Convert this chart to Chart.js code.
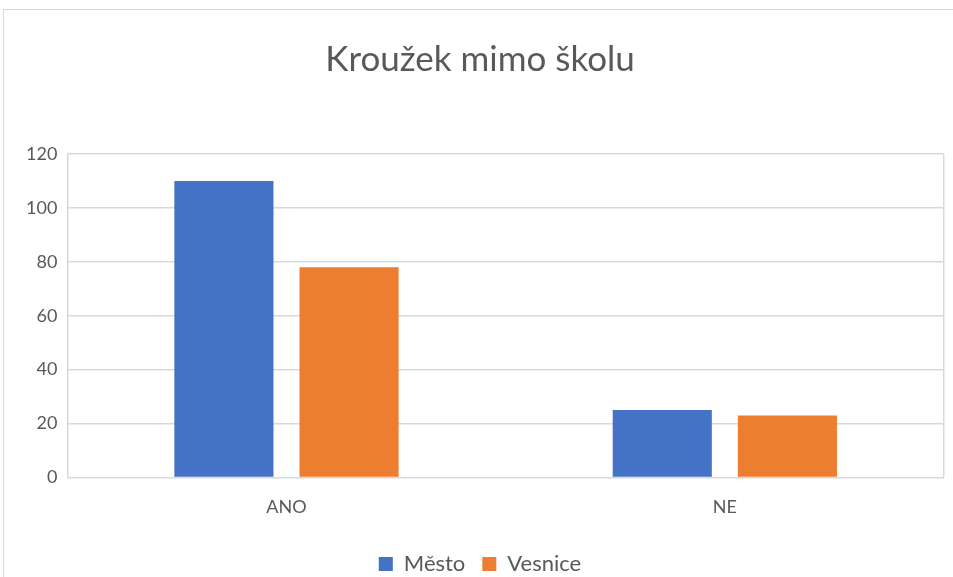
<!DOCTYPE html>
<html lang="cs">
<head>
    <meta charset="UTF-8">
    <title>Kroužek mimo školu</title>
    <script src="https://cdn.jsdelivr.net/npm/chart.js"></script>
    <style>
        html, body { margin: 0; padding: 0; background: #fff; }
        #wrap { position: relative; width: 953px; height: 577px; overflow: hidden; }
        #frame { position: absolute; left: 3px; top: 9px; width: 980px; height: 600px; border: 1px solid #d9d9d9; }
        #wrap canvas { position: absolute; left: 0; top: 0; }
    </style>
</head>
<body>
    <div id="wrap">
        <div id="frame"></div>
        <canvas id="krouzekChart" width="953" height="577"></canvas>
    </div>

    <script>
        const categories = ['ANO', 'NE'];
        const mesto = [110, 25];
        const vesnice = [78, 23];
        const seriesNames = ['Město', 'Vesnice'];

        const grey = '#595959';
        const gridGrey = '#d9d9d9';

        // fixed legend height so the legend sits where it does in the original
        const legendHeight = {
            id: 'legendHeight',
            beforeUpdate(chart) {
                const lg = chart.legend;
                if (lg && !lg._fixed) {
                    const fit = lg.fit;
                    lg.fit = function () { fit.call(this); this.height = 41; };
                    lg._fixed = true;
                }
            }
        };

        const ctx = document.getElementById('krouzekChart').getContext('2d');
        const chart = new Chart(ctx, {
            type: 'bar',
            data: {
                labels: categories,
                datasets: [{
                    label: seriesNames[0],
                    data: mesto,
                    backgroundColor: '#4472c4'
                }, {
                    label: seriesNames[1],
                    data: vesnice,
                    backgroundColor: '#ed7d31'
                }]
            },
            options: {
                responsive: false,
                animation: false,
                categoryPercentage: 0.571,
                barPercentage: 0.792,
                layout: {
                    padding: { left: 16, right: 9, top: 0, bottom: 0 }
                },
                plugins: {
                    title: {
                        display: true,
                        text: 'Kroužek mimo školu',
                        color: grey,
                        font: { family: 'Lato', size: 35, weight: 'normal' },
                        padding: { top: 39, bottom: 73 }
                    },
                    legend: {
                        position: 'bottom',
                        labels: {
                            color: grey,
                            font: { family: 'Lato', size: 22 },
                            boxWidth: 14,
                            boxHeight: 14,
                            padding: 17
                        }
                    },
                    tooltip: { enabled: false }
                },
                scales: {
                    x: {
                        grid: {
                            drawTicks: false,
                            color: (c) => c.index === 1 ? 'rgba(0,0,0,0)' : gridGrey,
                            lineWidth: 1.5
                        },
                        border: { display: false },
                        ticks: {
                            color: grey,
                            font: { family: 'Lato', size: 18 },
                            padding: 19
                        },
                        afterFit: (scale) => { scale.height -= 1; }
                    },
                    y: {
                        min: 0,
                        max: 120,
                        grid: { drawTicks: false, color: gridGrey, lineWidth: 1.5 },
                        border: { display: false },
                        ticks: {
                            stepSize: 20,
                            color: grey,
                            font: { family: 'Lato', size: 18 },
                            padding: 10
                        }
                    }
                }
            },
            plugins: [legendHeight]
        });
    </script>
</body>
</html>
